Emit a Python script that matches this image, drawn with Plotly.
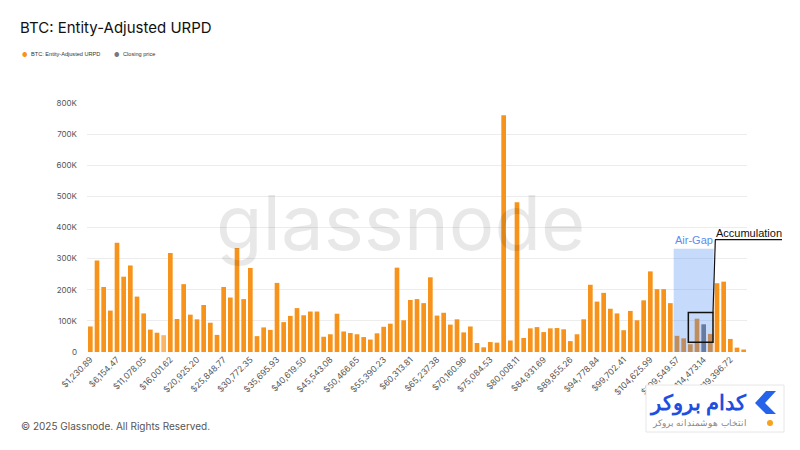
import plotly.graph_objects as go

# URPD supply per price bucket (BTC), buckets of $1,230.894
bucket_size = 1230.894
urpd = [
    82000, 294000, 209000, 133000, 351000, 242000, 278000, 178000, 124000, 72000,
    62000, 54000, 318000, 106000, 218000, 120000, 105000, 151000, 94000, 55000,
    209000, 175000, 334000, 170000, 270000,
    51000, 79000, 71000, 222000, 96000, 116000, 141000, 118000, 130000, 130000,
    49000, 57000, 123000, 66000, 61000, 57000, 48000, 40000, 60000, 81000,
    91000, 271000, 102000, 167000, 170000,
    157000, 240000, 117000, 126000, 88000, 105000, 63000, 82000, 29000, 15000,
    32000, 30000, 761000, 37000, 481000, 45000, 76000, 80000, 64000, 76000,
    77000, 73000, 35000, 57000, 105000, 216000, 162000, 190000, 139000, 124000,
    70000, 132000, 102000, 166000, 259000, 202000, 202000, 157000, 52000, 44000,
    25000, 107000, 89000, 58000, 221000, 226000, 42000, 14000, 8000,
]
closing_idx = 92      # bucket holding the closing price
highlight_idx = 11    # lighter (hovered) bar

prices = [bucket_size * (i + 1) for i in range(len(urpd))]
labels = ["${:,.2f}".format(p) for p in prices]

y_ticks = [0, 100000, 200000, 300000, 400000, 500000, 600000, 700000, 800000]
y_text = ["0", "100K", "200K", "300K", "400K", "500K", "600K", "700K", "800K"]

ORANGE = "#f7931a"
GRAY = "#77777f"

colors = []
for i in range(len(urpd)):
    if i == closing_idx:
        colors.append(GRAY)
    elif i == highlight_idx:
        colors.append("#fbb565")
    else:
        colors.append(ORANGE)

fig = go.Figure()
fig.add_trace(go.Bar(x=labels, y=urpd, marker=dict(color=colors, line=dict(width=0)),
                     showlegend=False))

# page body adds 8px, so lay out in screen pixels minus that offset
OFF = 8
L, T = 87 - OFF, 103 - OFF
PW, PH = 660, 249
R, B = 800 - L - PW, 450 - T - PH
def px(x):
    return (x - OFF - L) / PW
def py(y):
    return (T + PH - (y - OFF)) / PH

shapes = [
    # air gap band
    dict(type="rect", xref="x", yref="y", x0=87.5, x1=93.5, y0=0, y1=332000,
         fillcolor="rgba(66,133,244,0.3)", line=dict(width=0), layer="above"),
    # accumulation box
    dict(type="rect", xref="x", yref="y", x0=89.7, x1=93.4, y0=31000, y1=127000,
         line=dict(color="#111", width=1.5), layer="above"),
    dict(type="line", xref="x", yref="y", x0=93.4, y0=127000, x1=93.75, y1=361000,
         line=dict(color="#111", width=1.2), layer="above"),
    dict(type="line", xref="paper", yref="y", x0=px(715), y0=361000, x1=px(782), y1=361000,
         line=dict(color="#111", width=1.2), layer="above"),
    # broker badge
    dict(type="rect", xref="paper", yref="paper", x0=px(646), x1=px(784), y0=py(432), y1=py(385),
         fillcolor="white", line=dict(color="#e6e6e6", width=1), layer="above"),
    dict(type="path", xref="paper", yref="paper", layer="above", fillcolor="#2563eb",
         line=dict(width=0),
         path="M {},{} L {},{} L {},{} L {},{} L {},{} L {},{} Z".format(
             px(766), py(391), px(776), py(391), px(765), py(403),
             px(776), py(414), px(766), py(414), px(755), py(403))),
    dict(type="circle", xref="paper", yref="paper", layer="above", fillcolor="#f7a21b",
         line=dict(width=0), x0=px(767), x1=px(773), y0=py(426), y1=py(420)),
]

def note(text, x, y, size, color, family="Inter", xanchor="left"):
    return dict(text=text, xref="paper", yref="paper", x=px(x), y=py(y), xanchor=xanchor,
                yanchor="middle", showarrow=False,
                font=dict(family=family, size=size, color=color))

annotations = [
    note("glassnode", 400, 222, 76, "rgba(0,0,0,0.09)", xanchor="center"),
    dict(text="Air-Gap", xref="x", yref="y", x=90.5, y=334000, yanchor="bottom", showarrow=False,
         font=dict(family="Liberation Sans", size=11, color="#5b8def")),
    dict(text="Accumulation", xref="paper", yref="y", x=px(714), y=358000, xanchor="left",
         yanchor="bottom", showarrow=False,
         font=dict(family="Liberation Sans", size=11, color="#111")),
    # legend
    note("●", 24, 54, 6, ORANGE, xanchor="center"),
    note("BTC: Entity-Adjusted URPD", 29, 54, 5.6, "#333", family="Liberation Sans"),
    note("●", 116, 54, 6, GRAY, xanchor="center"),
    note("Closing price", 121, 54, 5.6, "#333", family="Liberation Sans"),
    note("© 2025 Glassnode. All Rights Reserved.", 19, 426, 10, "#555"),
    note("<b>کدام بروکر</b>", 749, 402, 21, "#1f4fe0", family="Noto Sans", xanchor="right"),
    note("انتخاب هوشمندانه بروکر", 749, 422, 9, "#888", family="Noto Sans", xanchor="right"),
]

fig.update_layout(
    width=800, height=450,
    margin=dict(l=L, r=R, t=T, b=B),
    paper_bgcolor="white", plot_bgcolor="white",
    title=dict(text="BTC: Entity-Adjusted URPD", x=(20 - OFF) / 800, y=1 - (28 - OFF) / 450,
               xanchor="left", yanchor="middle", xref="container", yref="container",
               font=dict(family="Inter", size=15, color="#111")),
    showlegend=False,
    bargap=0.3,
    shapes=shapes,
    annotations=annotations,
    font=dict(family="Inter"),
)
fig.update_xaxes(type="category", range=[-0.5, len(urpd) - 0.5], tickmode="array",
                 tickvals=labels[::4], ticktext=labels[::4], tickangle=-45,
                 tickfont=dict(family="Inter", size=8.5, color="#555"),
                 showgrid=False, showline=False, ticks="")
fig.update_yaxes(range=[0, 800000], tickmode="array", tickvals=y_ticks, ticktext=y_text,
                 tickfont=dict(family="Inter", size=8, color="#555"), ticklabelstandoff=9,
                 gridcolor="#ececec", zeroline=False, showline=False, ticks="")

fig.write_html("out.html")
